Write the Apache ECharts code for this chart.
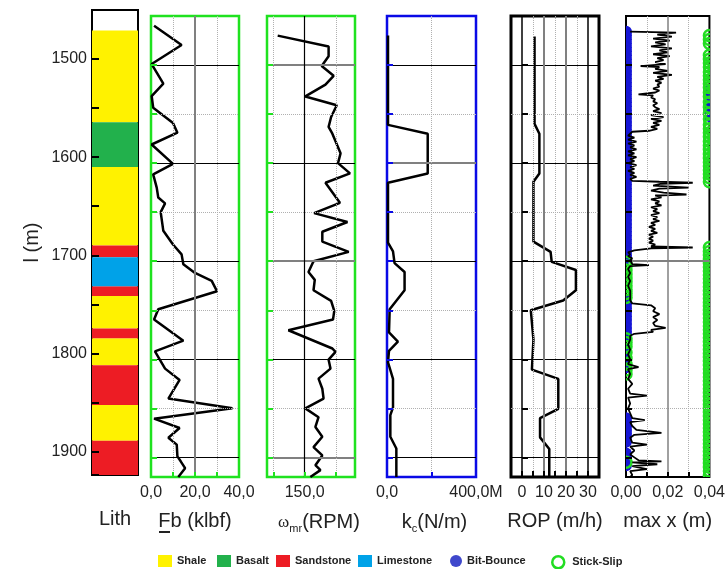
<!DOCTYPE html>
<html><head><meta charset="utf-8">
<script src="https://cdn.jsdelivr.net/npm/echarts@6/dist/echarts.min.js"></script>
<style>html,body{margin:0;padding:0;background:#fff}#c{width:728px;height:569px}</style>
</head><body><div id="c"></div>
<script>
// ---------------- DATA ----------------
const lithTypes = ['Shale','Basalt','Shale','Sandstone','Limestone','Sandstone','Shale','Sandstone','Shale','Sandstone','Shale','Sandstone'];
const lithTop   = [1471,1564.5,1610,1690,1702,1731.5,1741.5,1774.6,1784.5,1812,1852.7,1889];
const lithBase  = [1564.5,1610,1690,1702,1731.5,1741.5,1774.6,1784.5,1812,1852.7,1889,1924];

const fbDepth = [1460,1479.6,1499,1519,1531.6,1543.5,1559,1569,1581,1600.7,1611.5,1625,1635,1641,1650,1669,1683,1693,1703,1712,1720,1730.6,1749,1759.5,1781,1792,1809.5,1821,1840,1850,1860.5,1870,1880,1887,1899,1904,1911,1920];
const fbVal   = [1.4,13.9,0.3,5.6,0.3,1,10,12,0.3,10,1,2.6,3.3,6.4,4.4,5.6,10,13.9,14.7,20,27.6,30,3.3,1.4,14.7,1.8,6.4,13,7.9,37,1.4,13,7.9,11.7,12,13.5,15.5,12.4];

const wDepth = [1470,1481,1491,1501,1511,1520,1532,1541,1553,1563,1570,1590,1600,1610.5,1620,1640.5,1651,1660,1670,1680,1690.5,1700,1711,1719,1729.6,1740.5,1750.7,1759.5,1770.4,1789,1792.5,1800.4,1809.5,1819.7,1830,1840,1850,1859,1869,1879,1889.5,1898,1908,1913,1920];
const wVal   = [107,188,188,177,196,183,151,201,192,188,194,207,203,222,183,206,165,218,178,178,220,164,156,166,164,192,197,195,124,194,199,188,191,172,178,180,151,172,167,178,164,178,167,175,159];

const kcDepth = [1470,1561,1570,1610.5,1620,1681,1690,1702,1711,1729.6,1749,1772.6,1782,1791.5,1803,1820,1849,1857,1879,1891,1920];
const kcVal   = [4.5,4.5,183,183,4.5,4.5,27,34,79,79,12,9,49,9,4.5,27,27,15,15,42,42]; // in M N/m

const ropDepth = [1471,1560,1570,1610.5,1619,1680,1690.5,1700.7,1709,1729.6,1740,1750,1780,1810.5,1820,1850.5,1860,1879.6,1891.5,1920];
const ropVal   = [5.7,5.7,7.9,7.9,5.2,5.2,13,13.5,24.5,24.5,18.7,4,5.2,4.5,16.5,16.5,8.2,8.2,12.4,12.4];

const maxXProfile = [
 [1466,0.002],[1467,0.024],[1469,0.015],[1471,0.022],[1473,0.013],[1475,0.021],[1477,0.014],[1479,0.019],[1481,0.012],[1483,0.022],
 [1485,0.016],[1487,0.02],[1489,0.013],[1491,0.021],[1493,0.015],[1495,0.018],[1497,0.014],[1499,0.019],[1501,0.007],[1502,0.016],
 [1504,0.014],[1506,0.02],[1508,0.013],[1510,0.022],[1512,0.015],[1514,0.018],[1516,0.014],[1518,0.017],[1520,0.015],[1522,0.016],
 [1524,0.013],[1526,0.016],[1528,0.014],[1530,0.006],[1531,0.013],[1533,0.012],[1535,0.014],[1537,0.013],[1539,0.015],[1541,0.013],
 [1543,0.014],[1545,0.016],[1547,0.013],[1549,0.017],[1551,0.012],[1553,0.018],[1555,0.012],[1557,0.017],[1559,0.013],[1561,0.016],
 [1563,0.012],[1565,0.015],[1567,0.011],[1568,0.003],[1570,0.003],[1572,0.001],[1574,0.004],[1576,0.001],[1578,0.005],[1580,0.001],
 [1582,0.004],[1584,0.002],[1586,0.005],[1588,0.001],[1590,0.004],[1592,0.001],[1594,0.005],[1596,0.002],[1598,0.004],[1600,0.001],
 [1602,0.005],[1604,0.002],[1606,0.004],[1608,0.001],[1610,0.004],[1612,0.002],[1614,0.005],[1616,0.002],[1618,0.003],[1619,0.016],
 [1620,0.032],[1621,0.017],[1623,0.013],[1625,0.03],[1626,0.016],[1628,0.012],[1630,0.018],[1632,0.029],[1633,0.014],[1635,0.017],
 [1637,0.012],[1639,0.016],[1641,0.014],[1643,0.017],[1645,0.012],[1647,0.015],[1649,0.013],[1651,0.016],[1653,0.012],[1655,0.015],
 [1657,0.013],[1659,0.016],[1661,0.012],[1663,0.014],[1665,0.011],[1667,0.014],[1669,0.012],[1671,0.015],[1673,0.011],[1675,0.013],
 [1677,0.011],[1679,0.013],[1681,0.011],[1683,0.014],[1685,0.012],[1686,0.032],[1687,0.012],[1689,0.004],[1691,0.001],[1693,0.002],
 [1695,0.001],[1697,0.003],[1699,0.002],[1701,0.002],[1703,0.003],[1704,0.011],[1705,0.002],[1708,0.001],[1712,0.002],[1716,0.001],
 [1720,0.002],[1725,0.001],[1730,0.002],[1735,0.002],[1740,0.002],[1743,0.003],[1745,0.012],[1748,0.014],[1751,0.013],[1754,0.016],
 [1757,0.013],[1760,0.015],[1763,0.013],[1766,0.014],[1768,0.019],[1770,0.012],[1772,0.013],[1774,0.004],[1776,0.002],[1780,0.002],
 [1785,0.001],[1790,0.002],[1795,0.001],[1800,0.002],[1805,0.001],[1808,0.006],[1810,0.001],[1815,0.002],[1820,0.001],[1825,0.003],
 [1830,0.001],[1835,0.002],[1837,0.01],[1839,0.001],[1845,0.002],[1850,0.001],[1855,0.002],[1860,0.003],[1862,0.009],[1864,0.002],
 [1868,0.003],[1872,0.005],[1875,0.017],[1877,0.004],[1880,0.002],[1885,0.003],[1887,0.01],[1889,0.002],[1893,0.004],[1897,0.002],
 [1900,0.004],[1903,0.006],[1904,0.017],[1905,0.003],[1907,0.015],[1909,0.003],[1912,0.01],[1914,0.002],[1918,0.003],[1920,0.002]
];

// event depths (Bit-Bounce at min x, Stick-Slip at max x of the max x track)
const bitBounceLeft = [1466,1470,1474,1478,1482,1486,1490,1494,1498,1502,1506,1510,1514,1518,1522,1526,1530,1534,1538,1542,1546,1550,1554,1558,1562,1566,1570,1574,1578,1582,1586,1590,1594,1598,1602,1606,1610,1614,1618,1622,1626,1630,1634,1638,1642,1646,1650,1654,1658,1662,1666,1670,1674,1678,1682,1686,1690,1694,1697,
 1740,1744,1748,1752,1756,1760,1764,1768,1772,1776,1790,1796,1802,1808,1860,1864,1868,1872,1876,1880,1884,1896,1900,1904,1908];
const bitBounceRight = [1526,1530,1540,1546,1552];
const stickSlipLeft = [1701,1705,1709,1713,1717,1721,1725,1729,1733,1737,1779,1783,1787,1793,1799,1805,1811,1815,1905];
const stickSlipRight = [1470,1474,1478,1490,1494,1498,1502,1507,1511,1515,1519,1523,1528,1532,1538,1543,1549,1555,1561,1565,1569,1573,1578,1582,1586,1591,1595,1599,1603,1607,1611,1615,1619,
 1686,1690,1694,1698,1702,1706,1710,1714,1718,1722,1726,1730,1734,1738,1742,1746,1750,1754,1758,1762,1766,1770,1774,1778,1782,1786,1790,1794,1798,1802,1806,1810,1814,1818,1822,1826,1830,1834,1838,1842,1846,1850,1854,1858,1862,1866,1870,1874,1878,1882,1886,1890,1894,1898,1902,1906,1910,1914,1918];

const majorDepths = [1500,1600,1700,1800,1900];
const minorDepths = [1550,1650,1750,1850];
const lithNames = ['Shale','Basalt','Sandstone','Limestone'];
const lithColors = {Shale:'#fff200', Basalt:'#22b14c', Sandstone:'#ed1c24', Limestone:'#00a2e8'};

// ---------------- STYLE / LAYOUT ----------------
const GREEN = '#1fe21f', BLUE = '#0a0ae6', BB = '#1616d6', SS = '#22dd22';
const FONT = 'Liberation Sans, Arial, sans-serif';
const dotted = {color:'#b0b0b0', type:'dotted', width:1};
const grids = [
 {left:92, top:10, width:46, height:465, show:true, borderColor:'#000', borderWidth:2},
 {left:151, top:16, width:88, height:461, show:true, borderColor:GREEN, borderWidth:2.5},
 {left:267, top:16, width:88, height:461, show:true, borderColor:GREEN, borderWidth:2.5},
 {left:387, top:16, width:89, height:461, show:true, borderColor:BLUE, borderWidth:2.5},
 {left:511, top:16, width:88, height:461, show:true, borderColor:'#000', borderWidth:3},
 {left:626, top:16, width:88, height:461, show:true, borderColor:'#000', borderWidth:2}
];
const tickCol = ['#000', GREEN, GREEN, BLUE, '#000', '#000'];

function xAx(i, o) {
  return Object.assign({
    gridIndex:i, type:'value', z:10, axisLine:{show:false}, splitLine:{show:false},
    axisTick:{show:true, inside:true, length:5, lineStyle:{color:tickCol[i], width:2}},
    axisLabel:{fontSize:16, color:'#222', margin:8, fontFamily:FONT},
    nameLocation:'middle', nameGap:34, nameTextStyle:{fontSize:20, color:'#222', fontFamily:FONT}
  }, o);
}
const xAxes = [
  xAx(0,{min:0,max:1,axisTick:{show:false},axisLabel:{show:false},name:'Lith'}),
  xAx(1,{min:0,max:40,name:'Fb (klbf)',
     axisTick:{show:true,inside:true,length:5,customValues:[10,20,30],lineStyle:{color:GREEN,width:2}},
     axisLabel:{fontSize:16,color:'#222',margin:8,customValues:[0,20,40],formatter:v=>v.toFixed(1).replace('.',',')}}),
  xAx(2,{min:90,max:230,
     name:'{w|ω}{s|mr}{n|(RPM)}',
     nameTextStyle:{rich:{w:{fontSize:17,fontFamily:'Liberation Serif, serif',color:'#222'},s:{fontSize:11,color:'#222',padding:[12,0,0,0]},n:{fontSize:20,color:'#222',fontFamily:FONT}}, padding:[0,0,0,16]},
     axisTick:{show:true,inside:true,length:5,customValues:[100,150,200],lineStyle:{color:GREEN,width:2}},
     axisLabel:{fontSize:16,color:'#222',margin:8,customValues:[150],formatter:v=>v.toFixed(1).replace('.',',')}}),
  xAx(3,{min:0,max:400,
     name:'{k|k}{s|c}{n|(N/m)}',
     nameTextStyle:{rich:{k:{fontSize:20,color:'#222',fontFamily:FONT},s:{fontSize:11,color:'#222',padding:[12,0,0,0]},n:{fontSize:20,color:'#222',fontFamily:FONT}}, padding:[0,0,0,6]},
     axisTick:{show:true,inside:true,length:5,customValues:[200],lineStyle:{color:BLUE,width:2}},
     axisLabel:{fontSize:16,color:'#222',margin:8,customValues:[0,400],formatter:v=>v===0?'0,0':'400,0M'}}),
  xAx(4,{min:-5,max:35,name:'ROP (m/h)',
     axisTick:{show:true,inside:true,length:6,customValues:[0,5,10,15,20,25,30],lineStyle:{color:'#000',width:2}},
     axisLabel:{fontSize:16,color:'#222',margin:8,customValues:[0,10,20,30]}}),
  xAx(5,{min:0,max:0.04,name:'max x (m)',
     axisTick:{show:true,inside:true,length:5,customValues:[0.01,0.02,0.03],lineStyle:{color:'#000',width:2}},
     axisLabel:{fontSize:16,color:'#222',margin:8,customValues:[0,0.02,0.04],formatter:v=>v.toFixed(2).replace('.',',')}})
];
const yAxes = grids.map((g,i)=>({
  gridIndex:i, type:'value', inverse:true, min:1450, max: i===0?1924:1920, interval:50, z:10,
  axisLine:{show:false}, splitLine:{show:false},
  axisTick:{show:true, inside:true, length:i===0?7:6, lineStyle:{color:tickCol[i], width:2}},
  axisLabel:{show:i===0, fontSize:16, color:'#222', margin:5, fontFamily:FONT, formatter:v=>(v%100===0?String(v):'')},
  name: i===0 ? 'l (m)' : '', nameLocation:'middle', nameGap:50, nameRotate:90,
  nameTextStyle:{fontSize:20, color:'#222', fontFamily:FONT}
}));

function gridLines(i, hLines, vLines) {
  const data = [];
  hLines.forEach(h=>data.push({yAxis:h[0], lineStyle:h[1]}));
  vLines.forEach(v=>data.push({xAxis:v[0], lineStyle:v[1]}));
  return {type:'line', xAxisIndex:i, yAxisIndex:i, data:[], z:1, silent:true,
    markLine:{silent:true, symbol:['none','none'], label:{show:false}, animation:false, data}};
}
const solidK = {color:'#000', type:'solid', width:1};
const solidG = {color:'#808080', type:'solid', width:2};
const std = majorDepths.map(d=>[d, solidK]).concat(minorDepths.map(d=>[d, dotted]));

function profile(i, depths, vals) {
  return {type:'line', xAxisIndex:i, yAxisIndex:i, data:depths.map((d,k)=>[vals[k], d]),
    symbol:'none', showSymbol:false, z:3, silent:true, clip:true,
    lineStyle:{color:'#000', width:2.5}};
}

const series = [];
// lithology column
lithNames.forEach(n=>{
  const data = [];
  lithTypes.forEach((t,k)=>{ if (t===n) data.push([lithTop[k], lithBase[k]]); });
  series.push({type:'custom', name:n, xAxisIndex:0, yAxisIndex:0, data, itemStyle:{color:lithColors[n]},
    encode:{y:[0,1]}, clip:true, z:2,
    renderItem:(p, api)=>{
      const a = api.coord([0, api.value(0)]), b = api.coord([1, api.value(1)]);
      return {type:'rect', shape:{x:a[0], y:a[1], width:b[0]-a[0], height:b[1]-a[1]}, style:{fill:lithColors[n]}};
    }});
});
// grid lines
series.push(gridLines(1, std, [[10,dotted],[20,solidG],[30,dotted]]));
series.push(gridLines(2, [[1500,solidG],[1600,solidK],[1700,solidG],[1800,solidK],[1900,solidG]].concat(minorDepths.map(d=>[d,dotted])),
  [[100,dotted],[150,{color:'#000',width:1.2,type:'solid'}],[200,dotted]]));
series.push(gridLines(3, [[1500,solidK],[1600,solidG],[1700,solidK],[1800,solidK],[1900,solidK]].concat(minorDepths.map(d=>[d,dotted])),
  [[200,dotted]]));
series.push(gridLines(4, std, [[0,{color:'#000',width:1.5,type:'solid'}],[5,dotted],[10,solidG],[15,dotted],[20,solidG],[25,dotted],[30,{color:'#000',width:1.5,type:'solid'}]]));
series.push(gridLines(5, [[1550,dotted],[1700,solidG],[1850,dotted]], [[0.01,dotted],[0.02,{color:'#808080',width:1.5,type:'solid'}],[0.03,dotted]]));
// profiles
series.push(profile(1, fbDepth, fbVal));
series.push(profile(2, wDepth, wVal));
series.push(profile(3, kcDepth, kcVal));
series.push(profile(4, ropDepth, ropVal));
// events
series.push({type:'custom', name:'Bit-Bounce', xAxisIndex:5, yAxisIndex:5, clip:true, z:2,
  data: bitBounceLeft.map(d=>[0,d]).concat(bitBounceRight.map(d=>[0.04,d])),
  itemStyle:{color:BB}, encode:{x:0,y:1},
  renderItem:(p, api)=>{ const c = api.coord([api.value(0), api.value(1)]);
    return {type:'circle', shape:{cx:c[0], cy:c[1], r:6}, style:{fill:BB}}; }});
series.push({type:'custom', name:'Stick-Slip', xAxisIndex:5, yAxisIndex:5, clip:true, z:2,
  data: stickSlipLeft.map(d=>[0,d]).concat(stickSlipRight.map(d=>[0.04,d])),
  itemStyle:{color:SS}, encode:{x:0,y:1},
  renderItem:(p, api)=>{ const c = api.coord([api.value(0), api.value(1)]);
    return {type:'circle', shape:{cx:c[0], cy:c[1], r:5.5}, style:{fill:'none', stroke:SS, lineWidth:2.5}}; }});
series.push({type:'line', xAxisIndex:5, yAxisIndex:5, data:maxXProfile.map(p=>[p[1],p[0]]),
  symbol:'none', z:3, silent:true, clip:true, lineStyle:{color:'#000', width:1.8}});

function leg(left, name, w, extra) {
  return {left, top:555, padding:0, orient:'horizontal', itemWidth:w, itemHeight:12, selectedMode:false,
    textStyle:{fontSize:11, fontWeight:'bold', color:'#222', fontFamily:FONT},
    data:[Object.assign({name}, extra)]};
}
const option = {
  animation:false,
  textStyle:{fontFamily:FONT},
  grid: grids,
  xAxis: xAxes,
  yAxis: yAxes,
  legend: [
    leg(158,'Shale',14,{icon:'rect', itemStyle:{color:lithColors.Shale}}),
    leg(217,'Basalt',14,{icon:'rect', itemStyle:{color:lithColors.Basalt}}),
    leg(276,'Sandstone',14,{icon:'rect', itemStyle:{color:lithColors.Sandstone}}),
    leg(358,'Limestone',14,{icon:'rect', itemStyle:{color:lithColors.Limestone}}),
    leg(450,'Bit-Bounce',12,{icon:'circle', itemStyle:{color:'#3f48cc'}}),
    leg(551,'Stick-Slip',18,{icon:'circle', itemStyle:{color:'#fff', borderColor:SS, borderWidth:2.5}})
  ],
  graphic:[{type:'line', shape:{x1:159,y1:532,x2:170,y2:532}, style:{stroke:'#222', lineWidth:2}, z:10}],
  series
};
const chart = echarts.init(document.getElementById('c'));
chart.setOption(option);
</script></body></html>
